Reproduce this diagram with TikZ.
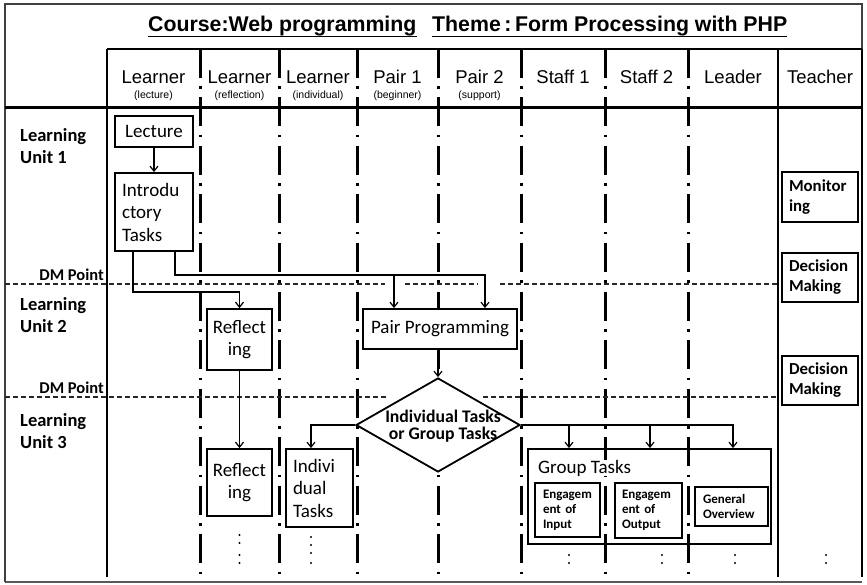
\documentclass[tikz,border=0pt]{standalone}
\usepackage{fontspec}
\setmainfont{Carlito}
\newfontfamily\arialf{Liberation Sans}
\usetikzlibrary{arrows.meta,shapes.geometric}
\begin{document}
\begin{tikzpicture}[x=1pt,y=-1pt,
  every node/.style={inner sep=0pt},
  lane/.style={line width=3pt, dash pattern=on 29pt off 8.5pt on 2.5pt off 8.5pt},
  solidlane/.style={line width=2.4pt},
  dmline/.style={line width=1.1pt, dash pattern=on 5pt off 3pt, black!85},
  box/.style={draw, line width=1.8pt, fill=white, inner sep=0pt},
  conn/.style={line width=1.3pt, -{Straight Barb[length=5pt,width=8pt,line width=1.2pt]}},
  plain/.style={line width=1.3pt},
  hdr/.style={font=\arialf\fontsize{18.5}{20}\selectfont},
  sub/.style={font=\arialf\fontsize{10.5}{12}\selectfont},
  ttl/.style={font=\arialf\bfseries\fontsize{21.3}{24}\selectfont, anchor=base west},
  rowlab/.style={font=\bfseries\fontsize{18.5}{22}\selectfont, align=left, anchor=west},
  dmlab/.style={font=\bfseries\fontsize{16.5}{18}\selectfont, anchor=east},
  reg/.style={font=\fontsize{19}{22.5}\selectfont},
  bsmall/.style={font=\bfseries\fontsize{13}{15}\selectfont},
  bmid/.style={font=\bfseries\fontsize{16.8}{20}\selectfont},
  dotf/.style={fill=black}
]
\useasboundingbox (0,0) rectangle (867,585);

% outer frame
\draw[line width=1.3pt, black!65] (862,582) -- (5,582);
\draw[line width=1.5pt, black!75] (5,582) -- (5,4) -- (862,4) -- (862,49);

% title
\node[ttl] (t1) at (148,32) {Course:Web programming};
\node[ttl] (t2) at (432,32) {Theme\,:\,Form Processing with PHP};
\draw[line width=1.3pt] (t1.south west) -- (t1.south east);
\draw[line width=1.3pt] (t2.south west) -- (t2.south east);

% swim lanes
\foreach \x in {200,279,357,438,521,605,688}
  \draw[lane] (\x,49) -- (\x,577);
\draw[solidlane] (107,49) -- (107,577);
\draw[solidlane] (778,49) -- (778,577);
\draw[solidlane] (862,49) -- (862,577);
\draw[solidlane] (107,49) -- (862,49);
\draw[line width=3pt] (5,108) -- (862,108);

% DM point lines
\draw[dmline] (5,284) -- (385,284);
\draw[dmline] (405,284) -- (478,284);
\draw[dmline] (500,284) -- (777,284);
\draw[dmline] (5,397) -- (387,397);
\draw[dmline] (483,397) -- (777,397);

% headers
\node[hdr] (h1) at (153.5,77) {Learner};
\node[sub] (s1) at (153.5,96) {(lecture)};
\node[hdr] (h2) at (239.5,77) {Learner};
\node[sub] (s2) at (239.5,96) {(reflection)};
\node[hdr] (h3) at (318,77) {Learner};
\node[sub] (s3) at (318,96) {(individual)};
\node[hdr] (h4) at (397.5,77) {Pair 1};
\node[sub] (s4) at (397.5,96) {(beginner)};
\node[hdr] (h5) at (479.5,77) {Pair 2};
\node[sub] (s5) at (479.5,96) {(support)};
\node[hdr] (h6) at (563,77) {Staff 1};
\node[hdr] (h7) at (646.5,77) {Staff 2};
\node[hdr] (h8) at (733,77) {Leader};
\node[hdr] (h9) at (820,77) {Teacher};

% row labels
\node[rowlab] (lu1) at (20,146) {Learning\\Unit 1};
\node[rowlab] (lu2) at (20,315) {Learning\\Unit 2};
\node[rowlab] (lu3) at (20,431) {Learning\\Unit 3};
\node[dmlab] (dm1) at (104,275) {DM Point};
\node[dmlab] (dm2) at (104,388) {DM Point};

% boxes
\node[box, reg, minimum width=78pt, minimum height=31pt] (lec) at (154,131.5) {Lecture};
\node[box, reg, minimum width=78pt, minimum height=78pt, text width=64pt, inner xsep=7pt, align=left] (intro) at (154,212) {Introdu\\ctory\\Tasks};
\node[box, reg, minimum width=65pt, minimum height=61pt, align=center] (r1) at (239.5,339.5) {Reflect\\ing};
\node[box, reg, minimum width=154pt, minimum height=40pt] (pp) at (440,329) {Pair Programming};
\node[diamond, draw, line width=1.8pt, fill=white, minimum width=164pt, minimum height=94pt, inner sep=0pt] (dia) at (438,425) {};
\node[font=\bfseries\fontsize{17.7}{17.5}\selectfont, align=center] (diat) at (443,426) {Individual Tasks\\or Group Tasks};
\node[box, reg, minimum width=65pt, minimum height=67pt, align=center] (r2) at (239.5,482.5) {Reflect\\ing};
\node[box, reg, minimum width=67pt, minimum height=78pt, text width=53pt, inner xsep=7pt, align=left] (indt) at (319.5,488) {Indivi\\dual\\Tasks};
\node[draw, line width=1.8pt, minimum width=243pt, minimum height=95pt] (grp) at (649.5,496.5) {};
\node[reg, anchor=west, fill=white] (grpl) at (538,468) {Group Tasks};
\node[box, bsmall, minimum width=65pt, minimum height=54pt, text width=49pt, inner xsep=8pt, align=left] (ein) at (567.5,510) {Engagem\\ent of\\Input};
\node[box, bsmall, minimum width=67pt, minimum height=55pt, text width=53pt, inner xsep=7pt, align=left] (eout) at (648.5,510.5) {Engagem\\ent of\\Output};
\node[box, bsmall, minimum width=73pt, minimum height=39pt, text width=57pt, inner xsep=8pt, align=left] (gen) at (731.5,506.5) {General\\Overview};
\node[box, bmid, minimum width=76pt, minimum height=50pt, text width=62pt, inner xsep=7pt, align=left] (mon) at (820,197) {Monitor\\ing};
\node[box, bmid, minimum width=76pt, minimum height=49pt, text width=62pt, inner xsep=7pt, align=left] (dec1) at (820,277.5) {Decision\\Making};
\node[box, bmid, minimum width=76pt, minimum height=49pt, text width=62pt, inner xsep=7pt, align=left] (dec2) at (820,380.5) {Decision\\Making};

% connectors
\draw[conn] (lec) -- (intro);
\draw[conn] ([xshift=-21pt]intro.south) |- ([yshift=16pt]r1.north) -- (r1.north);
\draw[conn] ([xshift=21pt]intro.south) |- ([xshift=45pt,yshift=33pt]pp.north) -- ([xshift=45pt]pp.north);
\draw[conn] ([xshift=-46pt,yshift=33pt]pp.north) -- ([xshift=-46pt]pp.north);
\draw[conn] ([xshift=-2pt]pp.south) -- (dia.north);
\draw[conn] (r1) -- (r2);
\draw[conn] (dia.west) -| ([xshift=-8.5pt]indt.north);
\draw[conn] (dia.east) -| ([xshift=83.5pt]grp.north);
\draw[conn] ([xshift=-80.5pt,yshift=24pt]grp.north) -- ([xshift=-80.5pt]grp.north);
\draw[conn] ([xshift=0.5pt,yshift=24pt]grp.north) -- ([xshift=0.5pt]grp.north);

% continuation dots
\foreach \y in {535,543,555,563} \fill[dotf] (239.5,\y) circle (1.2pt);
\foreach \y in {537,545,553,563} \fill[dotf] (311,\y) circle (1.2pt);
\foreach \x in {569,662,735,826}
  \foreach \y in {555,563} \fill[dotf] (\x,\y) circle (1.2pt);
\end{tikzpicture}
\end{document}
